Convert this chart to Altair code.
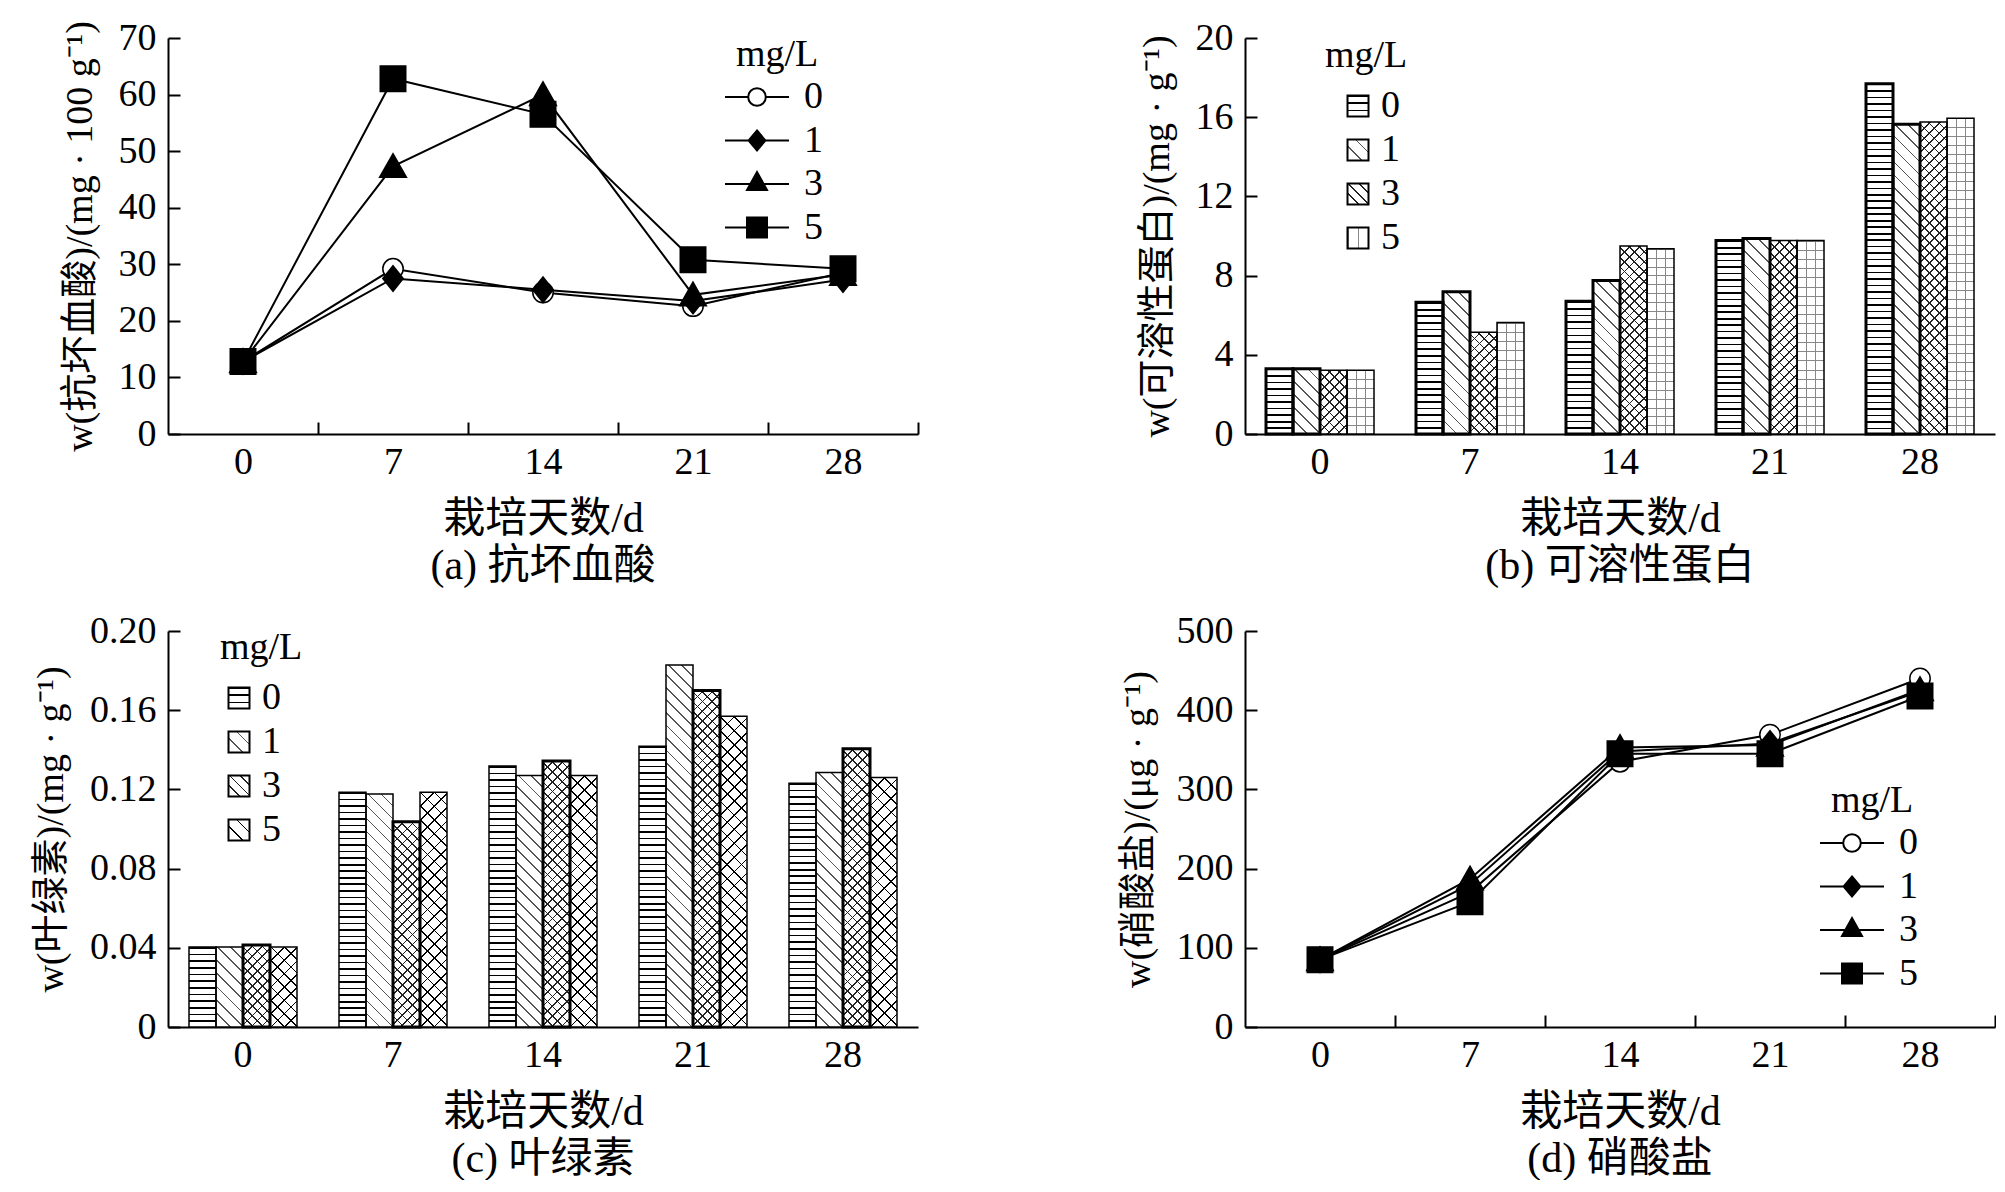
import math
import altair as alt
import pandas as pd

# ---------------- data ----------------
days = [0, 7, 14, 21, 28]
concs = ["0", "1", "3", "5"]

# (a) ascorbic acid, mg/100 g
vc_0 = [12.8, 29.2, 25.0, 22.6, 28.5]
vc_1 = [12.8, 27.5, 25.5, 23.5, 27.3]
vc_3 = [12.8, 47.3, 60.0, 24.6, 28.2]
vc_5 = [12.8, 62.8, 56.5, 30.8, 29.2]
# (b) soluble protein, mg/g
pr_0 = [3.30, 6.65, 6.70, 9.77, 17.69]
pr_1 = [3.30, 7.19, 7.75, 9.87, 15.65]
pr_3 = [3.22, 5.14, 9.50, 9.77, 15.76]
pr_5 = [3.22, 5.63, 9.35, 9.77, 15.95]
# (c) chlorophyll, mg/g
ch_0 = [0.0404, 0.1186, 0.1318, 0.1418, 0.1231]
ch_1 = [0.0404, 0.1177, 0.1270, 0.1828, 0.1285]
ch_3 = [0.0414, 0.1036, 0.1343, 0.1700, 0.1405]
ch_5 = [0.0404, 0.1186, 0.1270, 0.1570, 0.1260]
# (d) nitrate, ug/g
ni_0 = [85, 170, 335, 369, 440]
ni_1 = [85, 180, 348, 358, 424]
ni_3 = [85, 187, 353, 356, 426]
ni_5 = [85, 158, 345, 345, 418]

ticks_a = [0, 10, 20, 30, 40, 50, 60, 70]
ticks_b = [0, 4, 8, 12, 16, 20]
ticks_c = [0, 0.04, 0.08, 0.12, 0.16, 0.20]
ticks_d = [0, 100, 200, 300, 400, 500]

# ---------------- style ----------------
FONT = "Liberation Serif, Noto Sans CJK SC, serif"
FS = 38
PW, PH = 750, 396
PAD_IN, PAD_OUT = 0.28, 0.14
BW = (PW / (5 - PAD_IN + 2 * PAD_OUT)) * (1 - PAD_IN) / 4  # single bar width in px
SYM = 21


def make_long(series):
    rows = []
    for c, vals in zip(concs, series):
        for d, v in zip(days, vals):
            rows.append({"day": d, "conc": c, "lg": c, "v": v})
    return pd.DataFrame(rows)


def style_axis(**kw):
    base = dict(labelFont=FONT, labelFontSize=FS, labelColor="black",
                titleFont=FONT, titleFontSize=38, titleFontWeight="normal",
                titleColor="black", grid=False, domainColor="black",
                domainWidth=2, tickColor="black", tickWidth=2)
    base.update(kw)
    return alt.Axis(**base)


def stripes(n, frac, line, gap, x1, y1, x2, y2):
    stops = []
    for k in range(n):
        s = k / n
        e = (k + frac) / n
        stops += [{"offset": round(s, 5), "color": line},
                  {"offset": round(e, 5), "color": line},
                  {"offset": round(e, 5), "color": gap},
                  {"offset": round((k + 1) / n, 5), "color": gap}]
    return {"gradient": "linear", "x1": round(x1, 5), "y1": round(y1, 5),
            "x2": round(x2, 5), "y2": round(y2, 5), "stops": stops}


def grad_for(fam, w, h, spacing, lw, color, gap):
    if fam == "h":
        n = max(1, round(h / spacing))
        return stripes(n, min(0.9, lw * n / h), color, gap, 0, 0, 0, 1)
    if fam == "v":
        n = max(1, round(w / spacing))
        return stripes(n, min(0.9, lw * n / w), color, gap, 0, 0, 1, 0)
    r = h / w
    c = (1 + r) / (1 + r * r)
    L = (w + h) / math.sqrt(2)
    n = max(1, round(L / spacing))
    frac = min(0.9, lw * n / L)
    if fam == "b":
        return stripes(n, frac, color, gap, 0, 1, c, 1 - c * r)
    return stripes(n, frac, color, gap, 0, 0, c, c * r)


def grad_expr(g):
    stops = ",".join("{offset:%s,color:'%s'}" % (s["offset"], s["color"])
                     for s in g["stops"])
    return {"expr": "{gradient:'linear',x1:%s,y1:%s,x2:%s,y2:%s,stops:[%s]}" % (
        g["x1"], g["y1"], g["x2"], g["y2"], stops)}


def legend_common(**kw):
    base = dict(title="mg/L", orient="none", titleFont=FONT, titleFontSize=FS,
                titleFontWeight="normal", titleColor="black", labelFont=FONT,
                labelFontSize=FS, labelColor="black", padding=0,
                titlePadding=2, symbolOpacity=1)
    base.update(kw)
    return alt.Legend(**base)


M_PATHS = ["M0.8,0A0.8,0.8,0,1,1,-0.8,0A0.8,0.8,0,1,1,0.8,0Z",
           "M0,-1L0.8,0L0,1L-0.8,0Z",
           "M0,-1L1.05,0.85L-1.05,0.85Z",
           "M-1,-1L1,-1L1,1L-1,1Z"]
L_PATHS = ["M-1.6,0L-0.44,0M0.44,0L1.6,0M0.44,0A0.44,0.44,0,1,1,-0.44,0A0.44,0.44,0,1,1,0.44,0Z",
           "M-1.6,0L1.6,0M0,-0.5L0.42,0L0,0.5L-0.42,0Z",
           "M-1.6,0L1.6,0M0,-0.6L0.5,0.3L-0.5,0.3Z",
           "M-1.6,0L1.6,0M-0.5,-0.5L0.5,-0.5L0.5,0.5L-0.5,0.5Z"]


def caption_title(text):
    return alt.TitleParams(text=text, orient="bottom", font=FONT, fontSize=42,
                           fontWeight="normal", color="black", offset=7,
                           anchor="middle")


def x_axis_main():
    return style_axis(labelAngle=0, ticks=False, tickSize=0, labelPadding=9,
                      title="栽培天数/d", titleFontSize=42, titlePadding=17)


def line_panel(series, ymax, yvals, ytitle, caption, lx, ly, rowpad):
    df = make_long(series)
    xs = alt.Scale(domain=[-3.5, 31.5], nice=False, zero=False)
    ys = alt.Scale(domain=[0, ymax], nice=False, zero=True)
    xax = x_axis_main()
    xax["values"] = days
    lines = alt.Chart(df).mark_line(color="black", strokeWidth=2).encode(
        x=alt.X("day:Q", scale=xs, axis=xax),
        y=alt.Y("v:Q", scale=ys,
                axis=style_axis(values=yvals, ticks=False, tickSize=0,
                                labelPadding=12, title=ytitle,
                                titlePadding=19)),
        detail="conc:N",
    )
    pts = alt.Chart(df).mark_point(filled=True, size=650, stroke="black",
                                   strokeWidth=1.5, opacity=1,
                                   fillOpacity=1).encode(
        x=alt.X("day:Q", scale=xs,
                axis=style_axis(orient="top", offset=-PH,
                                values=[3.5, 10.5, 17.5, 24.5, 31.5],
                                labels=False, domain=False, tickSize=12,
                                title=None)),
        y=alt.Y("v:Q", scale=ys,
                axis=style_axis(orient="right", offset=-PW, values=yvals,
                                labels=False, domain=False, tickSize=12,
                                title=None)),
        shape=alt.Shape("conc:N", scale=alt.Scale(domain=concs, range=M_PATHS),
                        legend=None),
        fill=alt.Fill("conc:N",
                      scale=alt.Scale(domain=concs,
                                      range=["white", "black", "black", "black"]),
                      legend=None),
    )
    leg = legend_common(
        legendX=lx, legendY=ly, symbolSize=1600, symbolStrokeWidth=2,
        symbolStrokeColor="black", labelOffset=26, rowPadding=rowpad)
    key = alt.Chart(df).transform_filter("false").mark_point(
        filled=True, strokeWidth=2).encode(
        shape=alt.Shape("lg:N", scale=alt.Scale(domain=concs, range=L_PATHS),
                        legend=leg),
        fill=alt.Fill("lg:N",
                      scale=alt.Scale(domain=concs,
                                      range=["white", "black", "black", "black"]),
                      legend=leg),
        stroke=alt.Stroke("lg:N", scale=alt.Scale(domain=concs,
                                                   range=["black"] * 4),
                          legend=leg),
    )
    return alt.layer(lines, pts, key).resolve_scale(
        shape="independent", fill="independent", stroke="independent").resolve_axis(
        x="independent", y="independent").properties(
        width=PW, height=PH, title=caption_title(caption))


def bar_panel(series, ymax, yvals, ytitle, caption, pat, widths, lx, ly,
              symoff, labelexpr=None):
    df = make_long(series)
    xsc = alt.Scale(paddingInner=PAD_IN, paddingOuter=PAD_OUT)
    x_lab = alt.X("day:O", sort=days, scale=xsc, axis=x_axis_main())
    x_none = alt.X("day:O", sort=days, scale=xsc, axis=None)
    xo = alt.XOffset("conc:N", sort=concs,
                     scale=alt.Scale(domain=concs, paddingInner=0, paddingOuter=0))
    ys = alt.Scale(domain=[0, ymax], nice=False, zero=True)
    yax = dict(values=yvals, ticks=False, tickSize=0, labelPadding=12,
               title=ytitle, titlePadding=19)
    if labelexpr:
        yax["labelExpr"] = labelexpr
    y_lab = alt.Y("v:Q", scale=ys, axis=style_axis(**yax))
    y_none = alt.Y("v:Q", scale=ys, axis=None)
    y_tick = alt.Y("v:Q", scale=ys,
                   axis=style_axis(orient="right", offset=-PW, values=yvals,
                                   labels=False, domain=False, tickSize=12,
                                   title=None))
    layers = [alt.Chart(df).mark_bar(fill="white", strokeOpacity=0).encode(
        x=x_lab, xOffset=xo, y=y_lab)]
    for fam in ["h", "v", "b", "f"]:
        conds = []
        for c, vals in zip(concs, series):
            for (f, spacing, lw, color) in pat[c]:
                if f != fam:
                    continue
                for d, v in zip(days, vals):
                    h = v / ymax * PH
                    conds.append({"test": f"datum.day === {d} && datum.conc === '{c}'",
                                  "value": grad_for(fam, BW, h, spacing, lw, color,
                                                    "rgba(255,255,255,0)")})
        if conds:
            layers.append(alt.Chart(df).mark_bar(strokeOpacity=0).encode(
                x=x_none, xOffset=xo, y=y_none,
                fill=alt.FillValue("transparent", condition=conds)))
    layers.append(alt.Chart(df).mark_bar(fill="transparent", stroke="black").encode(
        x=x_none, xOffset=xo, y=y_tick,
        strokeWidth=alt.StrokeWidthValue(
            1.5, condition=[{"test": f"datum.conc === '{c}'", "value": w}
                            for c, w in zip(concs, widths)])))
    sym_range = []
    for c in concs:
        f, spacing, lw, color = pat[c][0]
        sym_range.append(grad_expr(grad_for(f, SYM, SYM, spacing, lw, color, "white")))
    leg = legend_common(
        legendX=lx, legendY=ly, symbolType="square", symbolSize=SYM * SYM,
        symbolOffset=symoff, labelOffset=4, rowPadding=6, titlePadding=12,
        symbolStrokeColor="black", symbolStrokeWidth=2)
    layers.append(alt.Chart(df).transform_filter("false").mark_point(
        shape="square", filled=True, stroke="black", strokeWidth=2).encode(
        fill=alt.Fill("lg:N", scale=alt.Scale(domain=concs, range=sym_range),
                      legend=leg)))
    return alt.layer(*layers).resolve_axis(
        x="independent", y="independent").properties(
        width=PW, height=PH, title=caption_title(caption))


# pattern per concentration: (direction, spacing px, line width px, colour)
pat_b = {"0": [("h", 6.5, 1.6, "black")],
         "1": [("b", 9, 1.3, "#555")],
         "3": [("b", 7, 1.2, "#222"), ("f", 7, 1.2, "#222")],
         "5": [("v", 9, 1.0, "#888"), ("h", 9, 1.0, "#888")]}
pat_c = {"0": [("h", 6.5, 1.6, "black")],
         "1": [("b", 9, 1.3, "#555")],
         "3": [("b", 7, 1.2, "#222"), ("f", 7, 1.2, "#222")],
         "5": [("b", 10, 1.2, "black"), ("f", 10, 1.2, "black")]}

pa = line_panel([vc_0, vc_1, vc_3, vc_5], 70, ticks_a,
                "w(抗坏血酸)/(mg · 100 g⁻¹)", "(a) 抗坏血酸", 568, -2, 3.5)
pb = bar_panel([pr_0, pr_1, pr_3, pr_5], 20, ticks_b,
               "w(可溶性蛋白)/(mg · g⁻¹)", "(b) 可溶性蛋白", pat_b,
               [3, 3, 1.5, 1.5], 80, -1, 14)
pc = bar_panel([ch_0, ch_1, ch_3, ch_5], 0.20, ticks_c,
               "w(叶绿素)/(mg · g⁻¹)", "(c) 叶绿素", pat_c,
               [1.5, 1.5, 3, 1.5], 52, -2, 0,
               labelexpr="datum.value == 0 ? '0' : format(datum.value, '.2f')")
pd_ = line_panel([ni_0, ni_1, ni_3, ni_5], 500, ticks_d,
                 "w(硝酸盐)/(μg · g⁻¹)", "(d) 硝酸盐", 586, 151, 3.5)

chart = alt.concat(pa, pb, pc, pd_, columns=2,
                   spacing={"row": 25, "column": 200}).properties(
    padding={"left": 24, "top": 11, "right": 0, "bottom": 0},
    background="white",
).resolve_scale(shape="independent", fill="independent",
                stroke="independent").configure_view(stroke=None)

chart.save("out.html", embed_options={"renderer": "svg", "actions": False})
